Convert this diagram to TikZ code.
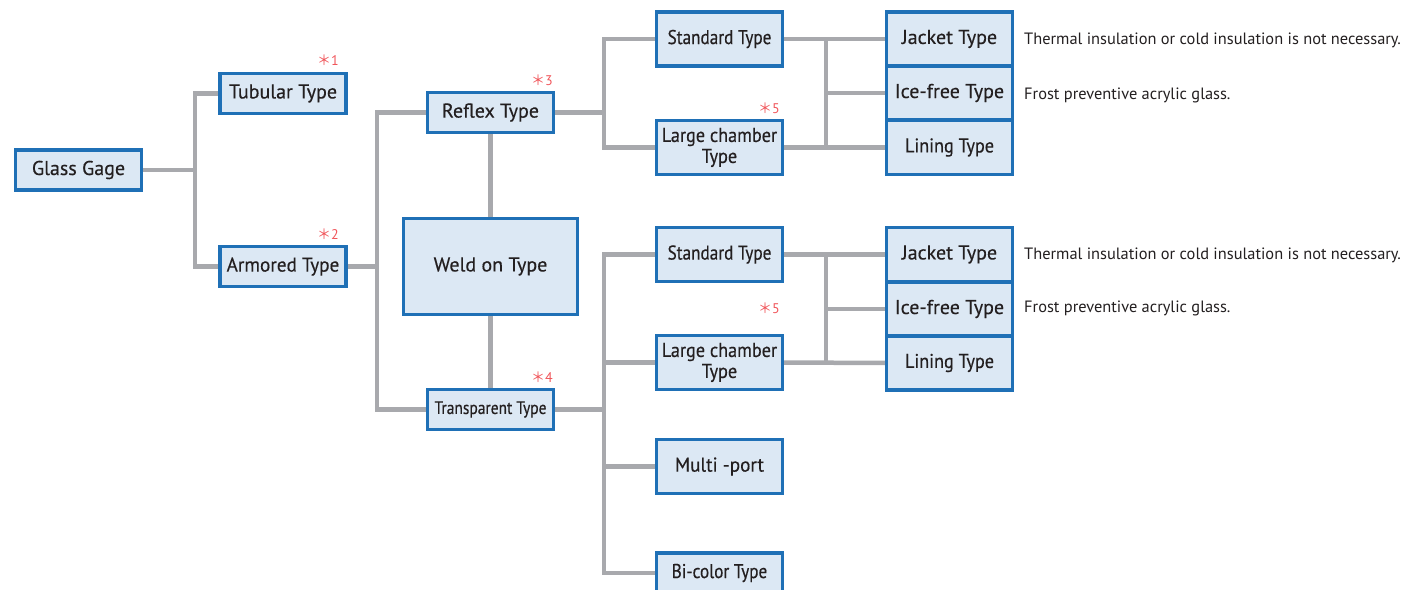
\documentclass[tikz,border=0pt]{standalone}
\usepackage{fontspec}
\setmainfont[FakeBold=0.35]{PT Sans}
\newfontfamily\notefont{PT Sans}
\newfontfamily\narrowA[FakeBold=0.35, FakeStretch=0.86]{PT Sans}
\newfontfamily\narrowB[FakeBold=0.35, FakeStretch=0.91]{PT Sans}
\newfontfamily\narrowC[FakeBold=0.35, FakeStretch=0.96]{PT Sans}
\newfontfamily\cjkfont{Noto Sans CJK JP}
\definecolor{boxfill}{HTML}{DCE8F4}
\definecolor{boxline}{HTML}{1F70B6}
\definecolor{linkgray}{HTML}{A8A9AD}
\definecolor{inkdark}{HTML}{231F20}
\definecolor{notered}{HTML}{F0555A}
\tikzset{
  box/.style={draw=boxline, fill=boxfill, line width=2.4pt, inner sep=0pt,
    align=center, text=inkdark, minimum width=125pt, minimum height=39pt,
    font=\fontsize{20}{21}\selectfont},
  tall/.style={minimum height=52.5pt},
  conn/.style={draw=linkgray, line width=4.5pt},
  note/.style={anchor=west, inner sep=0pt, text=inkdark, font=\notefont\fontsize{16.4}{18}\selectfont},
  refmark/.style={inner sep=0pt, text=notered, font=\notefont\fontsize{14}{16}\selectfont},
}
\begin{document}
\begin{tikzpicture}[x=1pt, y=-1pt]
\useasboundingbox (0,0) rectangle (1408,589);
\clip (0,0) rectangle (1408,589);

% junction points of the tree
\coordinate (j1) at (195,170);
\coordinate (j2) at (377,266.5);
\coordinate (j3) at (604,112.5);
\coordinate (j4) at (604,409.5);
\coordinate (v1) at (826,0);
\coordinate (v2) at (826,0);

% boxes
\node[box] (gg) at (78.5,170) {Glass Gage};
\node[box] (tub) at (283,93.5) {Tubular Type};
\node[box] (arm) at (283,266.5) {\narrowC Armored Type};
\node[box] (ref) at (490.5,112.5) {Reflex Type};
\node[box, minimum width=173pt, minimum height=95pt] (weld) at (490.5,266.5) {Weld on Type};
\node[box, font=\narrowA\fontsize{18}{20}\selectfont] (trans) at (490.5,409.5) {Transparent Type};

\node[box, tall] (std1) at (719.5,39) {\narrowA Standard Type};
\node[box, tall, font=\narrowB\fontsize{20}{21}\selectfont] (lc1) at (719.5,147.5) {Large chamber\\Type};
\node[box, tall] (jac1) at (949.5,39) {Jacket Type};
\node[box, tall] (ice1) at (949.5,93) {Ice-free Type};
\node[box, tall] (lin1) at (949.5,147.5) {\narrowB Lining Type};

\node[box, tall] (std2) at (719.5,254.5) {\narrowA Standard Type};
\node[box, tall, font=\narrowB\fontsize{20}{21}\selectfont] (lc2) at (719.5,362.5) {Large chamber\\Type};
\node[box, tall] (jac2) at (949.5,254.5) {Jacket Type};
\node[box, tall] (ice2) at (949.5,309) {Ice-free Type};
\node[box, tall] (lin2) at (949.5,363) {\narrowB Lining Type};

\node[box, tall] (multi) at (719.5,466.5) {\narrowC Multi -port};
\node[box] (bi) at (719.5,573) {\narrowA Bi-color Type};

% gray connectors
\begin{scope}[conn]
\draw (gg.east) -- (j1);
\draw (tub.west) -| (j1) |- (arm.west);
\draw (arm.east) -- (j2);
\draw (ref.west) -| (j2) |- (trans.west);
\draw (ref.south) -- (weld.north);
\draw (weld.south) -- (trans.north);
\draw (ref.east) -- (j3);
\draw (std1.west) -| (j3) |- (lc1.west);
\draw (std1.east) -- (jac1.west);
\draw (lc1.east) -- (lin1.west);
\draw (v1 |- std1.east) -- (v1 |- lc1.east);
\draw (v1 |- ice1.west) -- (ice1.west);
\draw (trans.east) -- (j4);
\draw (std2.west) -| (j4) |- (bi.west);
\draw (j4 |- lc2.west) -- (lc2.west);
\draw (j4 |- multi.west) -- (multi.west);
\draw (std2.east) -- (jac2.west);
\draw (lc2.east) -- (lin2.west);
\draw (v2 |- std2.east) -- (v2 |- lc2.east);
\draw (v2 |- ice2.west) -- (ice2.west);
\end{scope}

% box outlines drawn again over the connector ends
\foreach \n in {gg,tub,arm,ref,weld,trans,std1,lc1,jac1,ice1,lin1,std2,lc2,jac2,ice2,lin2,multi,bi}{
  \draw[draw=boxline, line width=2.4pt] (\n.north west) rectangle (\n.south east);
}

% note marks
\node[refmark, anchor=east] (m1) at (339,60) {{\cjkfont ＊}1};
\node[refmark, anchor=east] (m2) at (339,234) {{\cjkfont ＊}2};
\node[refmark, anchor=east] (m3) at (553,80) {{\cjkfont ＊}3};
\node[refmark, anchor=east] (m4) at (553,377) {{\cjkfont ＊}4};
\node[refmark, anchor=east] (m5) at (780,108) {{\cjkfont ＊}5};
\node[refmark, anchor=east] (m6) at (780,308) {{\cjkfont ＊}5};

% remarks
\node[note] (n1) at (1024,40) {Thermal insulation or cold insulation is not necessary.};
\node[note] (n2) at (1024,95) {Frost preventive acrylic glass.};
\node[note] (n3) at (1024,255) {Thermal insulation or cold insulation is not necessary.};
\node[note] (n4) at (1024,308) {Frost preventive acrylic glass.};
\end{tikzpicture}
\end{document}
